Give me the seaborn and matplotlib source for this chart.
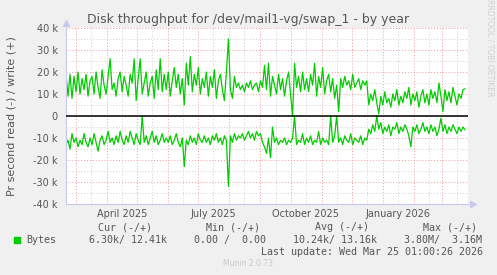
import numpy as np
import pandas as pd
import matplotlib
matplotlib.use("Agg")
import matplotlib.pyplot as plt
import matplotlib.dates as mdates
import matplotlib.ticker as mticker
import seaborn as sns

# values in k (bytes/s), one sample every 2 days starting 2025-02-19
write_k = [
    19, 9, 19, 8, 18, 11, 20, 10, 17, 12,
    19, 9, 16, 18, 10, 20, 13, 8, 21, 14,
    10, 18, 26, 12, 15, 9, 17, 20, 11, 18,
    14, 9, 19, 15, 26, 7, 17, 26, 10, 15,
    20, 9, 15, 18, 8, 21, 12, 26, 11, 19,
    12, 20, 9, 16, 22, 13, 19, 10, 17, 5,
    24, 14, 27, 11, 19, 14, 22, 10, 17, 13,
    20, 9, 18, 13, 21, 8, 16, 19, 12, 7,
    20, 35, 12, 8, 18, 13, 15, 12, 14, 11,
    15, 13, 16, 12, 14, 15, 11, 16, 13, 23,
    12, 24, 9, 18, 14, 10, 19, 12, 17, 9,
    16, 20, 10, 0, 24, 13, 18, 11, 20, 12,
    17, 11, 19, 14, 24, 9, 18, 13, 22, 10,
    16, 19, 11, 17, 8, 14, 2, 17, 13, 18,
    14, 16, 12, 19, 13, 15, 17, 12, 16, 14,
    16, 5, 10, 7, 12, 6, 1, 9, 5, 11,
    6, 8, 4, 10, 7, 12, 5, 9, 6, 11,
    8, 13, 5, 10, 7, 11, 4, 9, 12, 6,
    10, 5, 12, 8, 11, 6, 15, 9, 2, 12,
    7, 11, 6, 13, 9, 5, 10, 8, 12, 12.4,
]
read_k = [
    13, 11, 15, 8, 12, 10, 14, 11, 13, 8,
    12, 14, 10, 13, 8, 12, 16, 11, 9, 13,
    11, 7, 12, 10, 13, 9, 12, 7, 11, 13,
    9, 12, 7, 10, 13, 8, 11, 13, 0, 12,
    9, 13, 10, 7, 12, 9, 13, 11, 8, 12,
    10, 12, 9, 13, 11, 8, 12, 14, 10, 23,
    11, 13, 9, 12, 10, 13, 8, 11, 12, 9,
    12, 10, 13, 9, 11, 8, 12, 10, 13, 9,
    11, 32, 9, 12, 8, 11, 9, 10, 8, 11,
    9, 7, 10, 8, 11, 7, 9, 8, 12, 14,
    17, 10, 19, 5, 12, 10, 13, 11, 12, 10,
    13, 11, 12, 10, 0, 13, 11, 12, 8, 13,
    10, 12, 9, 13, 11, 12, 7, 13, 10, 12,
    11, 13, 0, 12, 9, 0, 12, 10, 13, 9,
    11, 12, 8, 13, 10, 11, 12, 9, 13, 10,
    11, 6, 8, 4, 7, 0, 6, 3, 8, 5,
    7, 4, 9, 5, 6, 3, 8, 5, 7, 4,
    6, 9, 14, 5, 7, 4, 8, 6, 3, 7,
    5, 8, 4, 7, 5, 9, 6, 1, 7, 4,
    8, 5, 7, 4, 6, 8, 5, 7, 5, 6.3,
]
dates = pd.date_range("2025-02-19", periods=len(write_k), freq="2D")
y_ticks = [-40, -30, -20, -10, 0, 10, 20, 30, 40]
y_labels = ["-40 k", "-30 k", "-20 k", "-10 k", "0", "10 k", "20 k", "30 k", "40 k"]

df = pd.DataFrame({"date": dates, "write": write_k, "read": [-v for v in read_k]})

sns.set_style("white")
plt.rcParams["font.family"] = ["DejaVu Sans"]

W, H = 497, 275
fig = plt.figure(figsize=(W / 100, H / 100), dpi=100, facecolor="#F0F0F0")
ax = fig.add_axes([66 / W, 1 - 204 / H, (468 - 66) / W, 176 / H])
ax.set_facecolor("white")

green = "#00CC00"
sns.lineplot(data=df, x="date", y="write", color=green, lw=0.9, ax=ax)
sns.lineplot(data=df, x="date", y="read", color=green, lw=0.9, ax=ax)
ax.axhline(0, color="black", lw=1.1, zorder=3)

ax.set_xlim(pd.Timestamp("2025-02-19"), pd.Timestamp("2026-03-27"))
ax.set_ylim(-40, 40)

ax.yaxis.set_major_locator(mticker.FixedLocator(y_ticks))
ax.yaxis.set_major_formatter(mticker.FixedFormatter(y_labels))
ax.yaxis.set_minor_locator(mticker.MultipleLocator(5))

ax.xaxis.set_major_locator(mdates.MonthLocator())
ax.xaxis.set_major_formatter(mticker.NullFormatter())
ax.xaxis.set_minor_locator(mdates.MonthLocator(bymonthday=16))


def month_label(v, pos):
    d = mdates.num2date(v)
    return d.strftime("%B %Y") if d.month in (1, 4, 7, 10) else ""


ax.xaxis.set_minor_formatter(mticker.FuncFormatter(month_label))

ax.grid(which="major", color="#F29A9A", linestyle=(0, (1, 2)), lw=0.7)
ax.grid(which="minor", color="#CFCFCF", linestyle=(0, (1, 2)), lw=0.7)
ax.tick_params(axis="y", which="both", length=2, labelsize=7, labelcolor="#555555",
               color="#C8C8E8", pad=4)
ax.tick_params(axis="x", which="major", length=3, color="#F29A9A", labelsize=7)
ax.tick_params(axis="x", which="minor", length=3, color="#CFCFCF", labelsize=7,
               labelcolor="#555555", pad=0.5)

for s in ["top", "right"]:
    ax.spines[s].set_visible(False)
for s in ["left", "bottom"]:
    ax.spines[s].set_color("#C8C8F0")
    ax.spines[s].set_linewidth(0.8)
ax.plot([1.012], [0], marker=">", color="#C8C8F0", ms=4, transform=ax.transAxes, clip_on=False)
ax.plot([0], [1.03], marker="^", color="#C8C8F0", ms=4, transform=ax.transAxes, clip_on=False)

ax.set_xlabel("")
ax.set_ylabel("Pr second read (-) / write (+)", fontsize=8, color="#555555", labelpad=12)

fig.text(248 / W, 1 - 19 / H, "Disk throughput for /dev/mail1-vg/swap_1 - by year",
         ha="center", va="center", fontsize=9, color="#555555")
fig.text(490 / W, 1 - 48 / H, "RRDTOOL / TOBI OETIKER", rotation=270, ha="center",
         va="center", fontsize=5.5, color="#D0D0D0")

mono = dict(family="DejaVu Sans Mono", fontsize=7.2, color="#555555", va="center")
for cx, txt in [(124.7, "Cur (-/+)"), (233, "Min (-/+)"), (341.7, "Avg (-/+)"), (450, "Max (-/+)")]:
    fig.text(cx / W, 1 - 227.5 / H, txt, ha="center", **mono)
fig.patches.append(plt.Rectangle((14 / W, 1 - 243 / H), 6 / W, 6 / H, color=green,
                                 transform=fig.transFigure, figure=fig))
for lx, txt in [(26.7, "Bytes"), (89.3, "6.30k/ 12.41k"), (194.3, "0.00 /  0.00"),
                (293.3, "10.24k/ 13.16k"), (404.3, "3.80M/  3.16M")]:
    fig.text(lx / W, 1 - 240 / H, txt, ha="left", **mono)
fig.text(483.3 / W, 1 - 252 / H, "Last update: Wed Mar 25 01:00:26 2026", ha="right", **mono)
fig.text(248 / W, 1 - 263.5 / H, "Munin 2.0.73", ha="center", va="center", fontsize=5.5,
         color="#C8C8C8")

fig.savefig("out.png", dpi=100, facecolor=fig.get_facecolor())
